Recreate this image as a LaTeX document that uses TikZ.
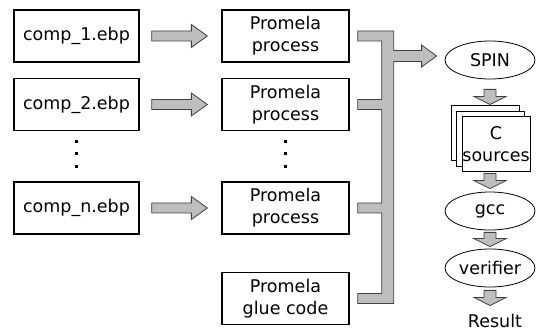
\documentclass[tikz,border=0pt]{standalone}
\usepackage{fontspec}
\setmainfont{DejaVu Sans}
\usetikzlibrary{calc,shapes.geometric}
\definecolor{fatgray}{RGB}{190,190,190}
\tikzset{
  file/.style={rectangle, draw=black, line width=1.3pt, fill=white, align=center,
               minimum width=125pt, minimum height=52pt, inner sep=0pt},
  proc/.style={file, minimum width=127pt},
  page/.style={rectangle, draw=black, line width=1pt, fill=white, align=center,
               minimum width=68pt, minimum height=55pt, inner sep=0pt},
  tool/.style={ellipse, draw=black, line width=0.8pt, minimum width=90pt,
               minimum height=38pt, inner sep=0pt},
  fat/.style={fill=fatgray, draw=black!75, line width=0.8pt},
  harr/.style={fat, to path={let \p1=(\tikztostart), \p2=(\tikztotarget) in
     ({\x1},{\y1+5pt}) -- ({\x2-16pt},{\y1+5pt}) -- ({\x2-16pt},{\y1+11.5pt}) -- ({\x2},{\y1})
     -- ({\x2-16pt},{\y1-11.5pt}) -- ({\x2-16pt},{\y1-5pt}) -- ({\x1},{\y1-5pt}) -- cycle}},
  varr/.style={fat, to path={let \p1=(\tikztostart), \p2=(\tikztotarget) in
     ({\x1-6pt},{\y1}) -- ({\x1-6pt},{\y2+8pt}) -- ({\x1-16pt},{\y2+8pt}) -- ({\x1},{\y2})
     -- ({\x1+16pt},{\y2+8pt}) -- ({\x1+6pt},{\y2+8pt}) -- ({\x1+6pt},{\y1}) -- cycle}},
}

\begin{document}
\begin{tikzpicture}[x=1pt,y=1pt,font=\fontsize{17.5}{22}\selectfont]
\useasboundingbox (0,0) rectangle (536,-331);
% input files
\node[file] (comp1) at (76.5,-36)   {comp\_1.ebp};
\node[file] (comp2) at (76.5,-104.5){comp\_2.ebp};
\node[file] (compn) at (76.5,-208)  {comp\_n.ebp};
% generated Promela
\node[proc] (proc1) at (285.5,-36)   {Promela\\process};
\node[proc] (proc2) at (285.5,-104.5){Promela\\process};
\node[proc] (procn) at (285.5,-208)  {Promela\\process};
\node[proc] (glue)  at (285.5,-298.5){Promela\\glue code};
% tool chain
\node[tool] (spin)  at (490,-60)    {SPIN};
\node[page] (csrcb) at (485,-133.5) {};
\node[page] (csrcm) at (490.5,-139) {};
\node[page] (csrc)  at (496,-144.5) {C\\sources};
\node[tool] (gcc)   at (490,-211)   {gcc};
\node[tool] (verif) at (490,-268)   {verifier};
\node[inner sep=0pt, anchor=base] (result) at (495,-328) {Result};
% vertical dots
\foreach \x in {76,285}
  \foreach \y in {142,154,167}
    \fill ({\x-1.5},{-\y-1.5}) rectangle +(3,3);
\draw[harr] ($(comp1.east)+(12,0)$) to ($(proc1.west)+(-14,0)$);
\draw[harr] ($(comp2.east)+(12,0)$) to ($(proc2.west)+(-14,0)$);
\draw[harr] ($(compn.east)+(12,0)$) to ($(procn.west)+(-14,0)$);
% merging bracket into SPIN
\draw[fat] let \p1=(proc1.east), \p2=(proc2.east), \p3=(procn.east), \p4=(glue.east),
    \p5=(spin.west) in
  ({\x1+8pt},{\y1+5pt}) -- ({\x1+44pt},{\y1+5pt}) -- ({\x1+44pt},{\y1-14.5pt})
  -- ({\x5-23pt},{\y1-14.5pt}) -- ({\x5-23pt},{\y1-9pt}) -- ({\x5-8pt},{\y1-20pt})
  -- ({\x5-23pt},{\y1-31pt}) -- ({\x5-23pt},{\y1-25.5pt}) -- ({\x1+44pt},{\y1-25.5pt})
  -- ({\x1+44pt},{\y4-5pt}) -- ({\x1+8pt},{\y4-5pt}) -- ({\x1+8pt},{\y4+5pt})
  -- ({\x1+32pt},{\y4+5pt}) -- ({\x1+32pt},{\y3-5pt}) -- ({\x1+8pt},{\y3-5pt})
  -- ({\x1+8pt},{\y3+5pt}) -- ({\x1+32pt},{\y3+5pt}) -- ({\x1+32pt},{\y2-5pt})
  -- ({\x1+8pt},{\y2-5pt}) -- ({\x1+8pt},{\y2+5pt}) -- ({\x1+32pt},{\y2+5pt})
  -- ({\x1+32pt},{\y1-5pt}) -- ({\x1+8pt},{\y1-5pt}) -- cycle;
\draw[varr] ($(spin.south)+(0,-10)$) to ($(csrcb.north -| spin.south)+(0,1)$);
\draw[varr] ($(csrc.south -| spin.south)+(0,-1)$) to ($(gcc.north)+(0,3)$);
\draw[varr] ($(gcc.south)+(0,-2)$) to ($(verif.north)+(0,2)$);
\draw[varr] ($(verif.south)+(0,-3)$) to ($(result.north -| verif.south)+(0,9)$);
\end{tikzpicture}
\end{document}
